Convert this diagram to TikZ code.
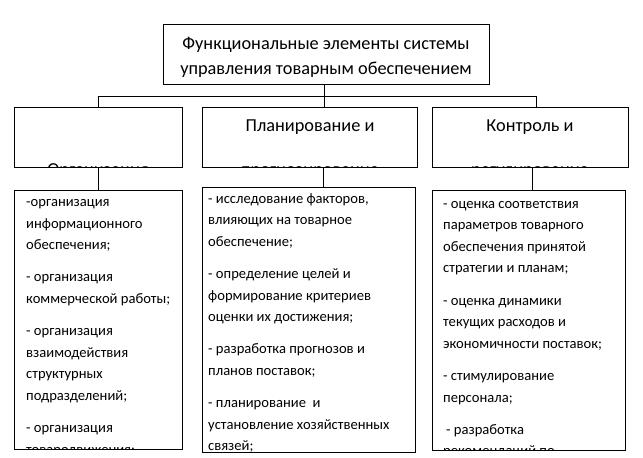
\documentclass[tikz,border=0pt]{standalone}
\usepackage{fontspec}
\setmainfont{Carlito}
\usetikzlibrary{positioning}
\tikzset{
  frame/.style={draw, line width=0.8pt, rectangle, inner sep=0pt, anchor=north west},
  head/.style={font=\fontsize{18.3}{25}\selectfont, anchor=base, inner sep=0pt},
  item/.style={font=\fontsize{14.6}{21.6}\selectfont, anchor=base west, inner sep=0pt},
  link/.style={line width=0.8pt}
}
\newcommand{\itemlist}[1]{\parbox[t]{250pt}{\raggedright #1}}
\newcommand{\gap}{\\[10.6pt]}

\begin{document}
\begin{tikzpicture}[x=1pt, y=-1pt]
        \useasboundingbox (0,0) rectangle (643,458);
        % Title box
        \node[frame, minimum width=326pt, minimum height=60pt] (title) at (163,24) {};
        \node[head] (titleA) at (326,49) {Функциональные элементы системы};
        \node[head] (titleB) at (326,74) {управления товарным обеспечением};
        % Function boxes
        \node[frame, minimum width=168pt, minimum height=60pt] (orgH) at (14,107) {};
        \node[frame, minimum width=215pt, minimum height=60pt] (planH) at (202,107) {};
        \node[frame, minimum width=196pt, minimum height=60pt] (ctrlH) at (432,107) {};
        \begin{scope}
          \clip (orgH.south west) rectangle (orgH.north east);
          \node[head] (orgB) at (98,175) {Организация};
        \end{scope}
        \begin{scope}
          \clip (planH.south west) rectangle (planH.north east);
          \node[head] (planA) at (310,131) {Планирование и};
          \node[head] (planB) at (310,175) {прогнозирование};
        \end{scope}
        \begin{scope}
          \clip (ctrlH.south west) rectangle (ctrlH.north east);
          \node[head] (ctrlA) at (530,131) {Контроль и};
          \node[head] (ctrlB) at (530,175) {регулирование};
        \end{scope}
        % Task boxes
        \node[frame, minimum width=168pt, minimum height=259pt] (orgL) at (14,190) {};
        \node[frame, minimum width=213pt, minimum height=265pt] (planL) at (202,187) {};
        \node[frame, minimum width=193pt, minimum height=260pt] (ctrlL) at (432,190) {};
        \begin{scope}
          \clip (orgL.south west) rectangle (orgL.north east);
          \node[item] (orgT) at (26,206.5) {\itemlist{-организация\\
            информационного\\
            обеспечения;\gap
            - организация\\
            коммерческой работы;\gap
            - организация\\
            взаимодействия\\
            структурных\\
            подразделений;\gap
            - организация\\
            товародвижения;}};
        \end{scope}
        \begin{scope}
          \clip (planL.south west) rectangle (planL.north east);
          \node[item] (planT) at (208,203) {\itemlist{- исследование факторов,\\
            влияющих на товарное\\
            обеспечение;\gap
            - определение целей и\\
            формирование критериев\\
            оценки их достижения;\gap
            - разработка прогнозов и\\
            планов поставок;\gap
            - планирование\ \ и\\
            установление хозяйственных\\
            связей;}};
        \end{scope}
        \begin{scope}
          \clip (ctrlL.south west) rectangle (ctrlL.north east);
          \node[item] (ctrlT) at (443,208) {\itemlist{- оценка соответствия\\
            параметров товарного\\
            обеспечения принятой\\
            стратегии и планам;\gap
            - оценка динамики\\
            текущих расходов и\\
            экономичности поставок;\gap
            - стимулирование\\
            персонала;\gap
            \hspace*{3pt}- разработка\\
            рекомендаций по}};
        \end{scope}
        % Connectors
        \coordinate (busL) at (98,96);
        \coordinate (busR) at (536,96);
        \coordinate (busM) at (324,96);
        \coordinate (dropM) at (323,0);
        \coordinate (dropR) at (532,0);
        \draw[link] (busL) -- (busR);
        \draw[link] (title.south -| busM) -- (busM);
        \draw[link] (busL) -- (busL |- orgH.north);
        \draw[link] (busM) -- (busM |- planH.north);
        \draw[link] (busR) -- (busR |- ctrlH.north);
        \draw[link] (orgH.south) -- (orgL.north);
        \draw[link] (planH.south -| dropM) -- (planL.north -| dropM);
        \draw[link] (ctrlH.south -| dropR) -- (ctrlL.north -| dropR);
\end{tikzpicture}
\end{document}
